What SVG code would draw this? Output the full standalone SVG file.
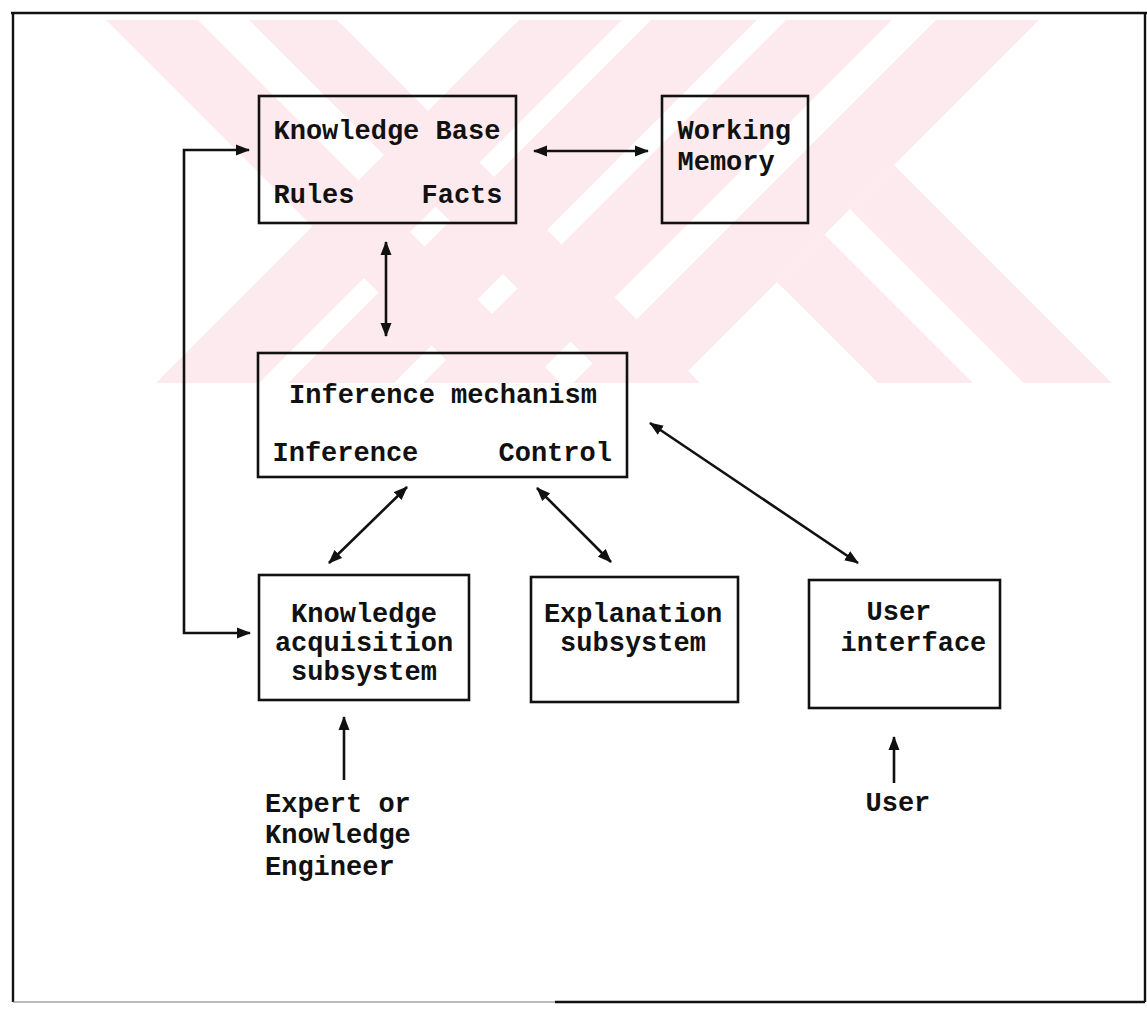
<svg xmlns="http://www.w3.org/2000/svg" width="1147" height="1010" viewBox="0 0 1147 1010">
  <style>
    .wm { fill: #fdeaee; stroke: none; }
    .box { fill: none; stroke: #111; stroke-width: 2.6; }
    .lbl { font-family: "Liberation Mono", "DejaVu Sans Mono", monospace; font-size: 27px; font-weight: bold; fill: #111; }
    .mid { text-anchor: middle; }
    .conn { fill: none; stroke: #111; stroke-width: 2.6; }
    .frame { fill: none; stroke: #111; stroke-width: 2.4; }
  </style>
  <defs>
    <marker id="ah" markerUnits="userSpaceOnUse" markerWidth="14" markerHeight="12" refX="13" refY="6" orient="auto-start-reverse" viewBox="0 0 14 12">
      <path d="M0,0.5 L14,6 L0,11.5 z" fill="#111"/>
    </marker>
  </defs>
  <rect x="0" y="0" width="1147" height="1010" fill="#ffffff"/>

  <g id="watermark">
    <polygon class="wm" points="106,20 198,20 561,383 469,383"/>
    <polygon class="wm" points="249,20 337,20 700,383 612,383"/>
    <polygon class="wm" points="519,20 622,20 259,383 156,383"/>
    <polygon class="wm" points="651,20 757,20 394,383 288,383"/>
    <polygon class="wm" points="786,20 892,20 529,383 423,383"/>
    <polygon class="wm" points="936,20 1039,20 676,383 573,383"/>
    <polygon class="wm" points="777,282 824.5,234.5 973,383 878,383"/>
    <polygon class="wm" points="850,209 894,165 1112,383 1024,383"/>
  </g>

  <g id="frame">
    <line class="frame" x1="11" y1="13" x2="1147" y2="13"/>
    <line class="frame" x1="13" y1="13" x2="13" y2="1002"/>
    <line class="frame" x1="1145" y1="13" x2="1145" y2="1002" stroke-width="1.6"/>
    <line x1="13" y1="1002" x2="555" y2="1002" stroke="#777" stroke-width="1"/>
    <line class="frame" x1="555" y1="1002" x2="1145" y2="1002"/>
  </g>

  <g id="knowledge-base">
    <rect class="box" x="259" y="96" width="257" height="127"/>
    <text class="lbl" x="273.5" y="139">Knowledge Base</text>
    <text class="lbl" x="273.5" y="203">Rules</text>
    <text class="lbl" x="421.5" y="203">Facts</text>
  </g>

  <g id="working-memory">
    <rect class="box" x="662" y="96" width="146" height="127"/>
    <text class="lbl" x="677.5" y="139">Working</text>
    <text class="lbl" x="677.5" y="170">Memory</text>
  </g>

  <g id="inference-mechanism">
    <rect class="box" x="258" y="353" width="369" height="124"/>
    <text class="lbl mid" x="443" y="403">Inference mechanism</text>
    <text class="lbl" x="272.5" y="461">Inference</text>
    <text class="lbl" x="498.5" y="461">Control</text>
  </g>

  <g id="knowledge-acquisition">
    <rect class="box" x="259" y="575" width="210" height="125"/>
    <text class="lbl mid" x="364" y="622">Knowledge</text>
    <text class="lbl mid" x="364" y="651">acquisition</text>
    <text class="lbl mid" x="364" y="680">subsystem</text>
  </g>

  <g id="explanation">
    <rect class="box" x="531" y="577" width="207" height="125"/>
    <text class="lbl mid" x="633" y="622">Explanation</text>
    <text class="lbl mid" x="633" y="651">subsystem</text>
  </g>

  <g id="user-interface">
    <rect class="box" x="809" y="580" width="191" height="128"/>
    <text class="lbl" x="866.5" y="620">User</text>
    <text class="lbl" x="840.5" y="651">interface</text>
  </g>

  <g id="expert">
    <text class="lbl" x="265" y="812">Expert or</text>
    <text class="lbl" x="265" y="843">Knowledge</text>
    <text class="lbl" x="265" y="875">Engineer</text>
  </g>

  <g id="user">
    <text class="lbl" x="865.5" y="811">User</text>
  </g>

  <g id="connectors">
    <line class="conn" x1="534" y1="151" x2="648" y2="151" marker-start="url(#ah)" marker-end="url(#ah)"/>
    <line class="conn" x1="386" y1="242" x2="386" y2="336" marker-start="url(#ah)" marker-end="url(#ah)"/>
    <path class="conn" d="M249,150 H184 V633 H250" marker-start="url(#ah)" marker-end="url(#ah)"/>
    <line class="conn" x1="407" y1="487" x2="329" y2="563" marker-start="url(#ah)" marker-end="url(#ah)"/>
    <line class="conn" x1="537" y1="488" x2="611" y2="562" marker-start="url(#ah)" marker-end="url(#ah)"/>
    <line class="conn" x1="650" y1="423" x2="858" y2="563" marker-start="url(#ah)" marker-end="url(#ah)"/>
    <line class="conn" x1="344" y1="780" x2="344" y2="717" marker-end="url(#ah)"/>
    <line class="conn" x1="894" y1="783" x2="894" y2="737" marker-end="url(#ah)"/>
  </g>
</svg>
